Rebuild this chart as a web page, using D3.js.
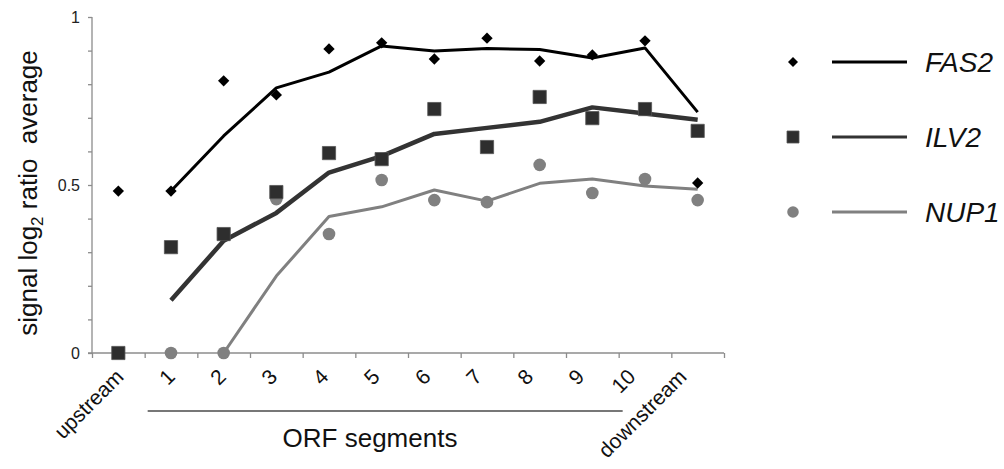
<!DOCTYPE html>
<html>
<head>
<meta charset="utf-8">
<script src="https://cdn.jsdelivr.net/npm/d3@7"></script>
<style>
  body { margin: 0; background: #fff; }
  svg { display: block; font-family: "Liberation Sans", Arial, sans-serif; }
</style>
</head>
<body>
<div id="chart"></div>
<script>
"use strict";

// categories along the x axis
var categories = ["upstream", "1", "2", "3", "4", "5", "6", "7", "8", "9", "10", "downstream"];

// measured points
var fas2 = [0.482, 0.482, 0.81, 0.768, 0.905, 0.923, 0.875, 0.937, 0.869, 0.887, 0.929, 0.506];
var ilv2 = [0, 0.315, 0.354, 0.479, 0.595, 0.577, 0.726, 0.613, 0.762, 0.699, 0.726, 0.661];
var nup1 = [null, 0, 0, 0.458, 0.354, 0.515, 0.455, 0.449, 0.56, 0.476, 0.518, 0.455];

// trend lines (2-point moving average)
var fas2Trend = [null, 0.482, 0.646, 0.789, 0.836, 0.914, 0.899, 0.906, 0.903, 0.878, 0.908, 0.717];
var ilv2Trend = [null, 0.157, 0.334, 0.417, 0.537, 0.586, 0.652, 0.670, 0.688, 0.731, 0.713, 0.694];
var nup1Trend = [null, null, 0, 0.229, 0.406, 0.435, 0.485, 0.452, 0.505, 0.518, 0.497, 0.487];

var yTicks = [0, 0.1, 0.2, 0.3, 0.4, 0.5, 0.6, 0.7, 0.8, 0.9, 1];
var yLabels = [0, 0.5, 1];

var series = [
  { name: "FAS2", points: fas2, trend: fas2Trend, color: "#000", fill: "#000", width: 3, shape: "diamond" },
  { name: "ILV2", points: ilv2, trend: ilv2Trend, color: "#333", fill: "#2e2e2e", width: 4.5, shape: "square" },
  { name: "NUP1", points: nup1, trend: nup1Trend, color: "#808080", fill: "#808080", width: 3, shape: "circle" }
];

var width = 1004, height = 469;
var axisColor = "#8c8c8c";

var svg = d3.select("#chart").append("svg")
  .attr("width", width)
  .attr("height", height);

var x = d3.scaleBand().domain(categories).range([92, 724]).padding(0);
var xEdge = d3.scaleLinear().domain([0, categories.length]).range([92, 724]);
// labels sit on a slightly tighter spread than the points
var xLabel = d3.scalePoint().domain(categories).range([125, 688]);
var y = d3.scaleLinear().domain([0, 1]).range([353, 17]);

function cx(d, i) { return x(categories[i]) + x.bandwidth() / 2; }

// y axis
var yAxis = svg.append("g")
  .attr("transform", "translate(92,0)")
  .call(d3.axisLeft(y).tickValues(yTicks).tickSize(4).tickPadding(8)
    .tickFormat(function (d) { return yLabels.indexOf(d) >= 0 ? d3.format("")(d) : ""; }));
yAxis.attr("font-size", 16).attr("font-family", "'Liberation Sans', Arial, sans-serif");
yAxis.select(".domain").attr("stroke", axisColor).attr("stroke-width", 1.3).attr("d", "M0,17V353");
yAxis.selectAll(".tick line").attr("stroke", axisColor).attr("stroke-width", 1.3);
yAxis.selectAll(".tick text").attr("fill", "#222");

// x axis (ticks between categories)
var xAxis = svg.append("g")
  .attr("transform", "translate(0,353)")
  .call(d3.axisBottom(xEdge).tickValues(d3.range(0, categories.length + 1)).tickSize(5).tickFormat(""));
xAxis.select(".domain").attr("stroke", axisColor).attr("stroke-width", 1.3).attr("d", "M88,0H724");
xAxis.selectAll(".tick line").attr("stroke", axisColor).attr("stroke-width", 1.3);

// rotated category labels
svg.append("g").selectAll("text")
  .data(categories)
  .join("text")
  .attr("transform", function (d) {
    return "translate(" + xLabel(d) + ",378) rotate(-45)";
  })
  .attr("text-anchor", "end")
  .attr("font-size", 21)
  .attr("fill", "#111")
  .text(function (d) { return d; });

// ORF segments bracket
svg.append("line")
  .attr("x1", x("1") + 3).attr("x2", x("10") + 4)
  .attr("y1", 411).attr("y2", 411)
  .attr("stroke", "#777").attr("stroke-width", 2.2);
svg.append("text")
  .attr("x", 370).attr("y", 447)
  .attr("text-anchor", "middle")
  .attr("font-size", 26)
  .attr("fill", "#111")
  .text("ORF segments");

// y axis title
var yTitle = svg.append("text")
  .attr("transform", "translate(37,193) rotate(-90)")
  .attr("text-anchor", "middle")
  .attr("font-size", 26)
  .attr("fill", "#111")
  .attr("xml:space", "preserve")
  .style("white-space", "pre");
yTitle.append("tspan").text("signal log");
yTitle.append("tspan").attr("font-size", 17).attr("dy", 6).text("2");
yTitle.append("tspan").attr("dy", -6).text(" ratio  average");

// trend lines
var line = d3.line()
  .defined(function (d) { return d != null; })
  .x(cx)
  .y(function (d) { return y(d); });

svg.append("g").selectAll("path")
  .data(series)
  .join("path")
  .attr("fill", "none")
  .attr("stroke", function (s) { return s.color; })
  .attr("stroke-width", function (s) { return s.width; })
  .attr("stroke-linejoin", "round")
  .attr("d", function (s) { return line(s.trend); });

// markers
var symbols = {
  diamond: d3.symbol().type(d3.symbolSquare).size(64),
  square: d3.symbol().type(d3.symbolSquare).size(175),
  circle: d3.symbol().type(d3.symbolCircle).size(125)
};

function markerTransform(shape, px, py) {
  return "translate(" + px + "," + py + ")" + (shape === "diamond" ? " rotate(45)" : "");
}

series.slice().reverse().forEach(function (s) {
  svg.append("g").selectAll("path")
    .data(s.points.map(function (v, i) { return { v: v, i: i }; })
      .filter(function (d) { return d.v != null; }))
    .join("path")
    .attr("d", symbols[s.shape]())
    .attr("transform", function (d) { return markerTransform(s.shape, cx(null, d.i), y(d.v)); })
    .attr("fill", s.fill)
    .attr("stroke", s.shape === "square" ? "#555" : "none")
    .attr("stroke-width", 0.8);
});

// legend
var legend = svg.append("g").selectAll("g")
  .data(series)
  .join("g")
  .attr("transform", function (s, i) { return "translate(0," + (62 + i * 75) + ")"; });

legend.append("path")
  .attr("d", function (s) {
    return s.shape === "diamond" ? d3.symbol().type(d3.symbolSquare).size(50)()
      : s.shape === "square" ? d3.symbol().type(d3.symbolSquare).size(144)()
      : d3.symbol().type(d3.symbolCircle).size(105)();
  })
  .attr("transform", function (s) { return markerTransform(s.shape, 793, 0); })
  .attr("fill", function (s) { return s.fill; })
  .attr("stroke", function (s) { return s.shape === "square" ? "#555" : "none"; })
  .attr("stroke-width", 0.8);

legend.append("line")
  .attr("x1", 832).attr("x2", 907)
  .attr("stroke", function (s) { return s.color; })
  .attr("stroke-width", 3);

legend.append("text")
  .attr("x", 925).attr("y", 10)
  .attr("font-size", 28)
  .attr("font-style", "italic")
  .attr("fill", "#111")
  .text(function (s) { return s.name; });
</script>
</body>
</html>
